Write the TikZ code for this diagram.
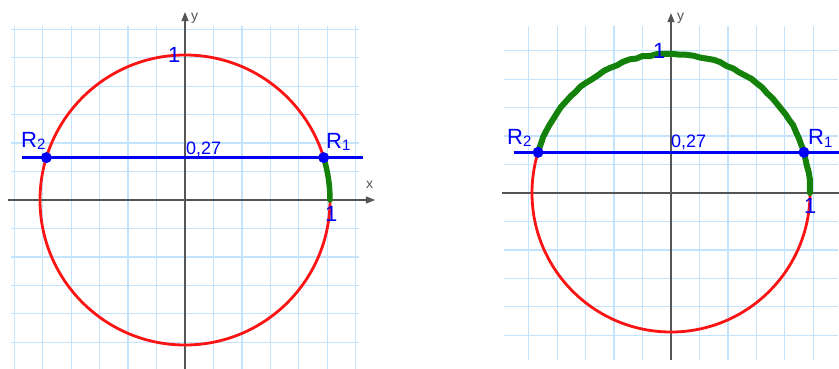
\documentclass[tikz,border=0pt]{standalone}
\usepackage{fontspec}
\setmainfont{Liberation Sans}
\usetikzlibrary{arrows.meta,decorations.pathmorphing}
\definecolor{gridblue}{RGB}{195,228,252}
\definecolor{axisgray}{RGB}{85,85,85}
\definecolor{circred}{RGB}{250,20,20}
\definecolor{lblue}{RGB}{0,0,245}
\definecolor{arcgreen}{RGB}{20,130,10}
\newcommand{\subnum}[1]{{\fontsize{15}{15}\selectfont\raisebox{-2.5pt}{#1}}}
\begin{document}
\begin{tikzpicture}[x=1pt,y=-1pt,
  gridline/.style={draw=gridblue, line width=1.2pt},
  axisline/.style={draw=axisgray, line width=1.2pt, -{Triangle[length=9pt,width=7pt]}},
  plainaxis/.style={draw=axisgray, line width=1.2pt},
  unitcircle/.style={draw=circred, line width=2.8pt},
  levelline/.style={draw=lblue, line width=3pt},
  arcpath/.style={draw=arcgreen, line width=5.5pt, line cap=round},
  dotmark/.style={circle, fill=lblue, inner sep=0pt, minimum size=11pt},
  bigl/.style={text=lblue, font=\fontsize{22}{22}\selectfont, inner sep=0pt, anchor=base west},
  midl/.style={text=lblue, font=\fontsize{18}{18}\selectfont, inner sep=0pt, anchor=base west},
  axl/.style={text=axisgray, font=\fontsize{14}{14}\selectfont, inner sep=0pt, anchor=base west}]
\useasboundingbox (0,0) rectangle (839,369);
\fill[white] (0,0) rectangle (839,369);
\pgfmathsetseed{7}

% ---------- left panel ----------
\begin{scope}[shift={(185,200)}, x=29pt, y=29pt]
  \draw[gridline] (-6,-6) grid (6,6);
  \coordinate (LxS) at (-6.1,0);
  \coordinate (LxE) at (6.55,0);
  \coordinate (LyS) at (0,-6);
  \coordinate (LyE) at (0,6.48);
  \draw[axisline] (LxS) -- (LxE);
  \draw[axisline] (LyS) -- (LyE);
  \draw[unitcircle] (0,0) circle[radius=5];
  \draw[arcpath] (5,0) arc[start angle=0, end angle=17, radius=5];
  \coordinate (LbS) at (-5.62,1.466);
  \coordinate (LbE) at (6.14,1.466);
  \draw[levelline] (LbS) -- (LbE);
  \node[dotmark] (LR1) at (17:5) {};
  \node[dotmark] (LR2) at (163:5) {};
\end{scope}

% ---------- right panel ----------
\begin{scope}[shift={(671,193)}, x=27.8pt, y=27.8pt]
  \draw[gridline] (-6,-6) grid (6,6);
  \coordinate (RxS) at (-6.08,0);
  \coordinate (RxE) at (7,0);
  \coordinate (RyS) at (0,-6);
  \coordinate (RyE) at (0,6.47);
  \draw[plainaxis] (RxS) -- (RxE);
  \draw[axisline] (RyS) -- (RyE);
  \draw[unitcircle] (0,0) circle[radius=5];
  \draw[arcpath, line width=6pt, line join=round, decorate,
        decoration={random steps, segment length=7pt, amplitude=0.7pt}]
        (5,0) arc[start angle=0, end angle=163, radius=5];
  \coordinate (RbS) at (-5.65,1.464);
  \coordinate (RbE) at (7,1.464);
  \draw[levelline] (RbS) -- (RbE);
  \node[dotmark] (RR1) at (17:5) {};
  \node[dotmark] (RR2) at (163:5) {};
\end{scope}

% ---------- labels ----------
\node[bigl] (lR2) at (21,147) {R\subnum{2}};
\node[bigl] (lR1) at (326,148) {R\subnum{1}};
\node[midl] (l027) at (186,154) {0,27};
\node[bigl] (ltop) at (168,63) {1};
\node[bigl] (lbot) at (325,221) {1};
\node[axl] (lx) at (366,188) {x};
\node[axl] (ly) at (191,21) {y};

\node[bigl] (rR2) at (507,144) {R\subnum{2}};
\node[bigl] (rR1) at (808,145) {R\subnum{1}};
\node[midl] (r027) at (671,147) {0,27};
\node[bigl] (rtop) at (653,59) {1};
\node[bigl] (rbot) at (804,213) {1};
\node[axl] (ry) at (677,21) {y};
\end{tikzpicture}
\end{document}
